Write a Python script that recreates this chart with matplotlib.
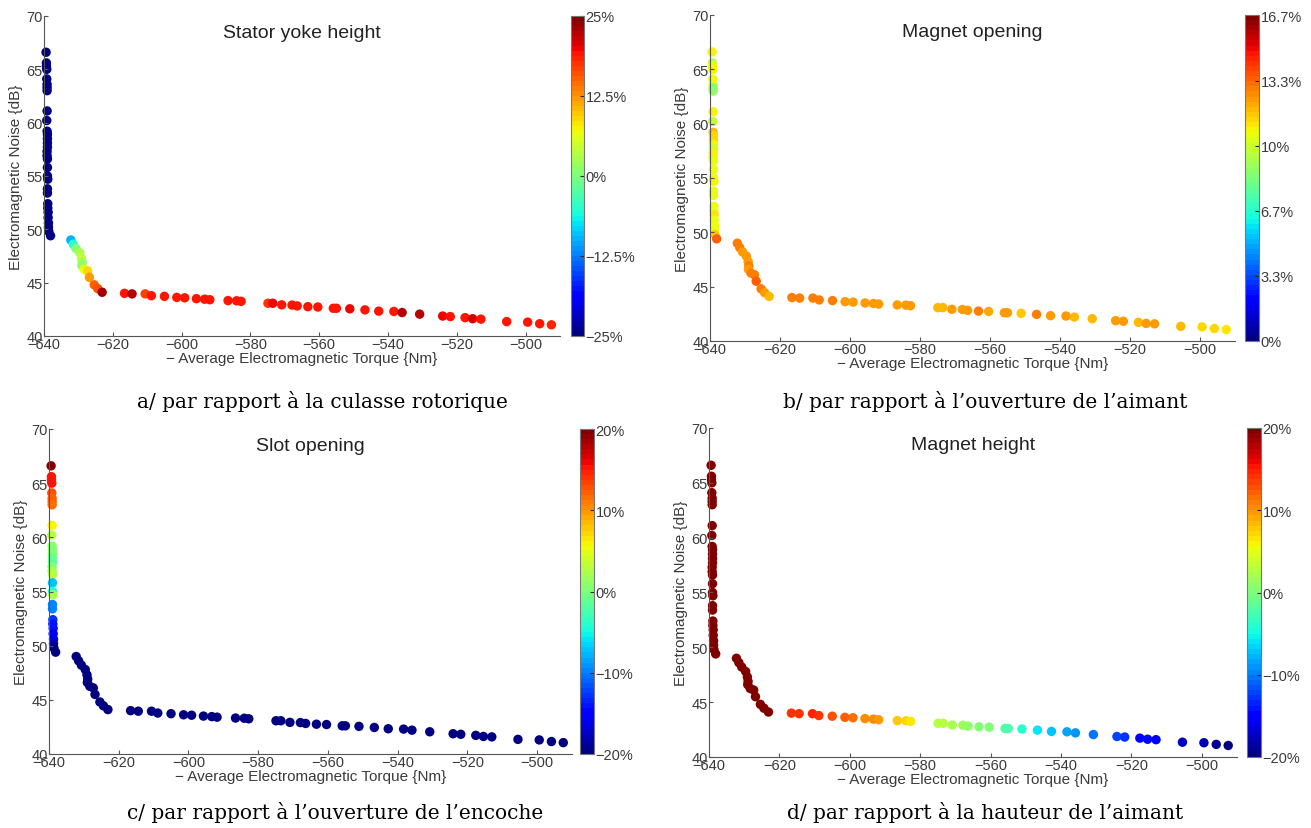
import numpy as np
import matplotlib
matplotlib.use('Agg')
import matplotlib.pyplot as plt

plt.rcParams['font.family'] = ['Liberation Sans', 'DejaVu Sans']
plt.rcParams['axes.unicode_minus'] = True

# Pareto front (same points on all four panels)
# vertical cluster, knee, flat tail
torque = [
    -639.4, -639.3, -639.3, -639.2, -639.2, -639.1, -639.1, -639.1, -639.1, -639.2,
    -639.1, -639.0, -639.0, -639.0, -639.0, -639.1, -639.1, -639.0, -639.0, -639.0,
    -638.9, -639.0, -639.0, -638.9, -638.9, -638.8, -638.8, -638.7, -638.7, -638.6,
    -638.1,
    -632.2, -631.5, -630.7, -629.6, -629.1, -628.9, -629.0, -628.3, -627.3, -626.8,
    -625.4, -624.4, -623.1,
    -616.6, -614.4, -610.6, -608.8, -605.0, -601.4, -599.1, -595.7, -593.3, -591.8,
    -586.5, -584.0, -582.7, -574.9, -573.5, -570.9, -567.9, -566.4, -563.3, -560.4,
    -555.9, -555.0, -551.1, -546.7, -542.7, -538.3, -535.9, -530.8, -524.1, -521.9,
    -517.6, -515.4, -513.0, -505.5, -499.4, -495.9, -492.5,
]
noise = [
    66.6, 65.6, 65.3, 65.0, 64.1, 63.6, 63.3, 63.0, 61.1, 60.2,
    59.2, 58.9, 58.5, 58.1, 57.7, 57.3, 56.9, 56.6, 55.8, 55.0,
    54.7, 53.8, 53.4, 52.4, 52.0, 51.6, 51.1, 50.6, 50.2, 49.8,
    49.4,
    49.0, 48.6, 48.2, 47.8, 47.3, 46.9, 46.6, 46.25, 46.1, 45.5,
    44.8, 44.45, 44.1,
    44.0, 43.95, 43.95, 43.78, 43.72, 43.62, 43.58, 43.5, 43.45, 43.4,
    43.32, 43.3, 43.25, 43.07, 43.07, 42.92, 42.9, 42.82, 42.75, 42.72,
    42.6, 42.6, 42.55, 42.45, 42.33, 42.3, 42.2, 42.05, 41.87, 41.82,
    41.72, 41.62, 41.58, 41.35, 41.3, 41.15, 41.05,
]

# colour values (%) for each panel
var_yoke = [
    -25, -25, -25, -25, -25, -25, -25, -25, -25, -25,
    -25, -25, -25, -25, -25, -25, -25, -25, -25, -25,
    -25, -25, -25, -25, -25, -25, -25, -25, -25, -25,
    -25,
    -10, -5, 0, 3, 4, 2, 1, 7, 9, 12,
    15, 16, 23,
    19, 22, 17, 19, 19, 19, 19, 19, 19, 19,
    19, 19, 19.5, 17.5, 20, 19, 19, 19, 19, 19,
    19, 19, 20, 19, 19, 19, 22, 22, 20, 19,
    19, 21, 19, 19, 19, 19, 18,
]
var_magnet_open = [
    10.8, 9.5, 10.5, 10.8, 10.5, 10.5, 8.5, 8.8, 10.7, 9.8,
    12.0, 11.3, 11.3, 10.8, 10.0, 10.8, 10.8, 10.5, 10.5, 10.5,
    10.8, 10.5, 10.5, 10.5, 10.6, 11.0, 10.5, 10.6, 10.6, 11.5,
    13.5,
    12.8, 12.8, 12.5, 12.3, 12.5, 12.8, 12.3, 12.8, 12.8, 13.5,
    13.0, 12.5, 11.8,
    13.0, 12.8, 13.0, 12.8, 12.8, 12.5, 12.5, 12.5, 12.3, 12.3,
    12.3, 12.5, 12.3, 11.8, 11.8, 12.5, 12.3, 12.5, 12.8, 12.2,
    12.3, 12.3, 11.5, 12.8, 12.3, 12.5, 12.0, 11.8, 12.5, 12.3,
    12.0, 12.3, 12.5, 11.8, 11.3, 11.3, 11.2,
]
var_slot = [
    20, 15, 15.5, 15, 13, 12, 12, 11.5, 6, 3,
    1, 0, 0, -1, -1.5, 0.5, 1.5, 2.5, -7, -5,
    2, -10, -10, -13, -14, -14, -16, -16, -18, -20,
    -20,
    -20, -20, -20, -20, -20, -20, -20, -20, -20, -20,
    -20, -20, -20,
    -20, -20, -20, -20, -20, -20, -20, -20, -20, -20,
    -20, -20, -20, -20, -20, -20, -20, -20, -20, -20,
    -20, -20, -20, -20, -20, -20, -20, -20, -20, -20,
    -20, -20, -20, -20, -20, -20, -20,
]
var_magnet_h = [
    20, 20, 20, 20, 20, 20, 20, 20, 20, 20,
    20, 20, 20, 20, 20, 20, 20, 20, 20, 20,
    20, 20, 20, 20, 20, 20, 20, 20, 20, 20,
    20,
    20, 20, 20, 20, 20, 20, 20, 20, 20, 20,
    20, 20, 20,
    14, 14, 14.5, 14, 12.5, 12, 11.5, 10.5, 10, 9.5,
    8, 7, 6.5, 3, 2.5, 2, 1.5, 1, 0.5, 0,
    -2, -2, -4, -6, -7.5, -8.5, -9, -10.5, -12.5, -13,
    -14.5, -15, -15.5, -17.5, -18, -19, -20,
]

titles = ['Stator yoke height', 'Magnet opening', 'Slot opening', 'Magnet height']
captions = ['a/ par rapport à la culasse rotorique',
            'b/ par rapport à l’ouverture de l’aimant',
            'c/ par rapport à l’ouverture de l’encoche',
            'd/ par rapport à la hauteur de l’aimant']
cbar_ticks = [[-25, -12.5, 0, 12.5, 25],
              [0, 3.33, 6.67, 10, 13.33, 16.7],
              [-20, -10, 0, 10, 20],
              [-20, -10, 0, 10, 20]]
cbar_labels = [['\u221225%', '\u221212.5%', '0%', '12.5%', '25%'],
               ['0%', '3.3%', '6.7%', '10%', '13.3%', '16.7%'],
               ['\u221220%', '\u221210%', '0%', '10%', '20%'],
               ['\u221220%', '\u221210%', '0%', '10%', '20%']]
limits = [(-25, 25), (0, 16.7), (-20, 20), (-20, 20)]
colours = [var_yoke, var_magnet_open, var_slot, var_magnet_h]

W, H = 1311, 829
# pixel boxes: axes (left, top, right, bottom), colorbar (left, right)
ax_px = [(44, 17, 560, 337), (710, 16, 1235, 342), (49, 430, 572, 755), (709, 429, 1237, 758)]
cb_px = [(571, 584), (1245, 1259), (580, 594), (1247, 1261)]
cap_px = [(322, 402), (985, 402), (335, 813), (985, 813)]

cmap = plt.get_cmap('jet', 64)
grey = '#3a3a3a'

fig = plt.figure(figsize=(W / 100, H / 100), dpi=100)
for i in range(4):
    l, t, r, b = ax_px[i]
    ax = fig.add_axes([l / W, 1 - b / H, (r - l) / W, (b - t) / H])
    sc = ax.scatter(torque, noise, c=colours[i], cmap=cmap, vmin=limits[i][0], vmax=limits[i][1],
                    s=46, linewidths=0, clip_on=False)
    ax.set_xlim(-640, -490)
    ax.set_ylim(40, 70)
    ax.set_xticks(np.arange(-640, -499, 20))
    ax.set_yticks(np.arange(40, 71, 5))
    for s in ['top', 'right']:
        ax.spines[s].set_visible(False)
    for s in ['left', 'bottom']:
        ax.spines[s].set_color('#555555')
    ax.tick_params(direction='in', length=3, labelsize=10.5, colors='#555555', labelcolor=grey, pad=1)
    ax.set_xlabel('\u2212 Average Electromagnetic Torque {Nm}', fontsize=11, color=grey, labelpad=0)
    ax.set_ylabel('Electromagnetic Noise {dB}', fontsize=11, color=grey, labelpad=2)
    ax.text(0.5, 0.975, titles[i], transform=ax.transAxes, ha='center', va='top', fontsize=14, color='#222222')

    cl, cr = cb_px[i]
    cax = fig.add_axes([cl / W, 1 - b / H, (cr - cl) / W, (b - t) / H])
    cb = fig.colorbar(sc, cax=cax, ticks=cbar_ticks[i])
    cb.set_ticklabels(cbar_labels[i])
    cb.outline.set_edgecolor('#777777')
    cb.ax.tick_params(direction='in', length=3, labelsize=10.5, colors='#222222', labelcolor=grey, pad=1)

    cx, cy = cap_px[i]
    fig.text(cx / W, 1 - cy / H, captions[i], ha='center', va='center', fontsize=14.5,
             family='DejaVu Serif', color='black')

fig.savefig('out.png', dpi=100)
